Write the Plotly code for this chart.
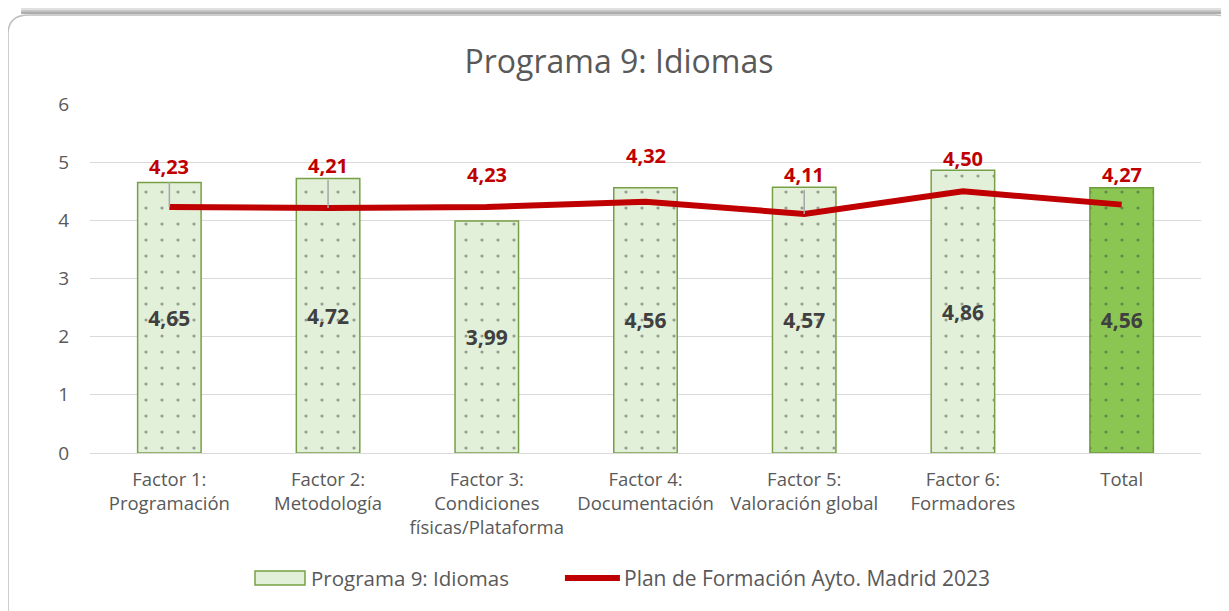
import plotly.graph_objects as go

# datos
categorias = [
    "Factor 1:<br>Programación",
    "Factor 2:<br>Metodología",
    "Factor 3:<br>Condiciones<br>físicas/Plataforma",
    "Factor 4:<br>Documentación",
    "Factor 5:<br>Valoración global",
    "Factor 6:<br>Formadores",
    "Total",
]
programa_9 = [4.65, 4.72, 3.99, 4.56, 4.57, 4.86, 4.56]
plan_madrid = [4.23, 4.21, 4.23, 4.32, 4.11, 4.50, 4.27]

# desplazamiento (px) de las etiquetas rojas y si llevan línea guía
desplaz_etiqueta = [-40, -43, -32, -46, -39, -33, -30]
linea_guia = [True, True, False, False, True, False, False]

NOMBRE_BARRAS = "Programa 9: Idiomas"
NOMBRE_LINEA = "Plan de Formación Ayto. Madrid 2023"

ROJO = "#C00000"
GRIS_TEXTO = "#595959"
FUENTE = "Open Sans"

relleno = ["#E2F0D9"] * 6 + ["#8BC653"]
puntos = ["#C6E0B4"] * 6 + ["#00B050"]
borde = ["#77A046"] * 6 + ["#6E9A3E"]

fig = go.Figure()

fig.add_trace(
    go.Bar(
        x=categorias,
        y=programa_9,
        name=NOMBRE_BARRAS,
        showlegend=False,
        marker=dict(
            color=relleno,
            line=dict(color=borde, width=1.5),
            pattern=dict(shape=".", bgcolor=relleno, fgcolor=puntos, size=16, solidity=0.03),
        ),
        texttemplate="<b>%{y:.2f}</b>",
        textposition="inside",
        insidetextanchor="middle",
        textfont=dict(size=21, color="#404040", family=FUENTE),
        textangle=0,
    )
)

fig.add_trace(
    go.Scatter(
        x=categorias,
        y=plan_madrid,
        name=NOMBRE_LINEA,
        showlegend=False,
        mode="lines",
        line=dict(color=ROJO, width=6),
    )
)

for cat, val, dy, guia in zip(categorias, plan_madrid, desplaz_etiqueta, linea_guia):
    fig.add_annotation(
        x=cat,
        y=val,
        text="<b>" + f"{val:.2f}".replace(".", ",") + "</b>",
        showarrow=guia,
        arrowhead=0,
        arrowwidth=1.5,
        arrowcolor="#A6A6A6",
        standoff=0,
        ax=0,
        ay=dy,
        yshift=0 if guia else -dy,
        font=dict(size=20, color=ROJO, family=FUENTE),
    )

# tarjeta de fondo con esquinas redondeadas
fig.add_shape(
    type="path",
    xref="paper",
    yref="paper",
    path=(
        "M -0.0738,-0.6 L -0.0738,1.20 Q -0.0738,1.255 -0.055,1.255 "
        "L 1.012,1.255 Q 1.031,1.255 1.031,1.20 L 1.031,-0.6 Z"
    ),
    line=dict(color="#BFBFBF", width=1.5),
    fillcolor="white",
    layer="below",
)
# sombra superior
for i, col in enumerate(["#F2F2F2", "#E0E0E0", "#C8C8C8", "#ADADAD"]):
    yy = 1.255 + 0.006 * (4 - i)
    fig.add_shape(
        type="line",
        xref="paper",
        yref="paper",
        x0=-0.062,
        x1=1.02,
        y0=yy,
        y1=yy,
        line=dict(color=col, width=2.2),
        layer="below",
    )

# leyenda manual
fig.add_shape(
    type="rect", xref="paper", yref="paper",
    x0=0.1485, x1=0.1935, y0=-0.378, y1=-0.338,
    fillcolor="#E2F0D9", line=dict(color="#77A046", width=1.5),
)
fig.add_annotation(
    xref="paper", yref="paper", x=0.197, y=-0.358,
    text=NOMBRE_BARRAS, showarrow=False, xanchor="left", yanchor="middle",
    font=dict(size=20.5, color=GRIS_TEXTO, family=FUENTE),
)
fig.add_shape(
    type="line", xref="paper", yref="paper",
    x0=0.4275, x1=0.477, y0=-0.358, y1=-0.358,
    line=dict(color=ROJO, width=6),
)
fig.add_annotation(
    xref="paper", yref="paper", x=0.479, y=-0.358,
    text=NOMBRE_LINEA, showarrow=False, xanchor="left", yanchor="middle",
    font=dict(size=21, color=GRIS_TEXTO, family=FUENTE),
)

fig.update_layout(
    width=1221,
    height=603,
    margin=dict(l=82, r=28, t=96, b=158),
    paper_bgcolor="white",
    plot_bgcolor="white",
    separators=",.",
    bargap=0.6,
    showlegend=False,
    font=dict(family=FUENTE, color=GRIS_TEXTO, size=18),
    title=dict(
        text="Programa 9: Idiomas",
        x=0.5004,
        xref="container",
        xanchor="center",
        y=0.9104,
        yref="container",
        yanchor="middle",
        font=dict(size=32, color=GRIS_TEXTO, family=FUENTE),
    ),
    xaxis=dict(
        showgrid=False,
        showline=False,
        ticks="",
        ticklabelstandoff=13,
        tickfont=dict(size=18.5, color=GRIS_TEXTO),
    ),
    yaxis=dict(
        range=[0, 6],
        dtick=1,
        showgrid=True,
        gridcolor="#D9D9D9",
        gridwidth=1,
        zeroline=True,
        zerolinecolor="#D9D9D9",
        zerolinewidth=1,
        ticks="",
        ticklabelstandoff=20,
        tickfont=dict(size=19, color=GRIS_TEXTO),
    ),
)

fig.write_html("out.html")
